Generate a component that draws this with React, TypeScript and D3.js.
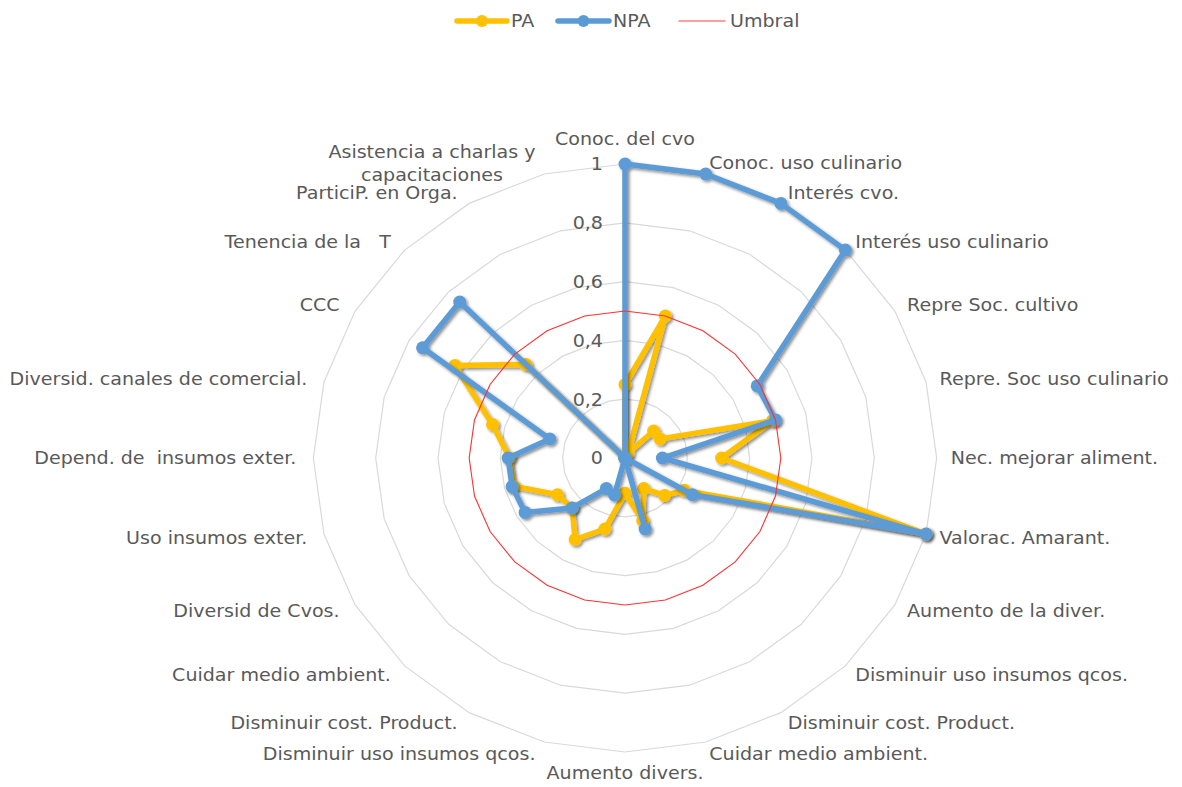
import React, { useEffect, useRef } from "react";
import * as d3 from "d3";

const categories: string[] = [
  "Conoc. del cvo",
  "Conoc. uso culinario",
  "Interés cvo.",
  "Interés uso culinario",
  "Repre Soc. cultivo",
  "Repre. Soc uso culinario",
  "Nec. mejorar aliment.",
  "Valorac. Amarant.",
  "Aumento de la diver.",
  "Disminuir uso insumos qcos.",
  "Disminuir cost. Product.",
  "Cuidar medio ambient.",
  "Aumento divers.",
  "Disminuir uso insumos qcos.",
  "Disminuir cost. Product.",
  "Cuidar medio ambient.",
  "Diversid de Cvos.",
  "Uso insumos exter.",
  "Depend. de  insumos exter.",
  "Diversid. canales de comercial.",
  "CCC",
  "Tenencia de la   T",
  "ParticiP. en Orga.",
  "Asistencia a charlas y\ncapacitaciones",
];

const paValues: number[] = [
  0.25, 0.5, 0.02, 0.13, 0.13, 0.49, 0.31, 1.0, 0.22, 0.18, 0.12, 0.22,
  0.12, 0.25, 0.32, 0.24, 0.25, 0.37, 0.37, 0.44, 0.63, 0.45, 0, 0,
];

const npaValues: number[] = [
  1.0, 1.0, 1.0, 1.0, 0.49, 0.5, 0.12, 1.0, 0.25, 0, 0, 0.25,
  0, 0.13, 0.12, 0.24, 0.37, 0.375, 0.375, 0.25, 0.75, 0.75, 0, 0,
];

const umbralValues: number[] = [
  0.5, 0.5, 0.5, 0.5, 0.5, 0.5, 0.5, 0.5, 0.5, 0.5, 0.5, 0.5,
  0.5, 0.5, 0.5, 0.5, 0.5, 0.5, 0.5, 0.5, 0.5, 0.5, 0.5, 0.5,
];

const tickValues: number[] = [0, 0.2, 0.4, 0.6, 0.8, 1];
const tickLabels: string[] = ["0", "0,2", "0,4", "0,6", "0,8", "1"];

const seriesNames: string[] = ["PA", "NPA", "Umbral"];

const W = 1182;
const H = 787;
const CX = 625;
const CY = 458;
const R = 294;
const SX = 1.06;
const FONT = "'DejaVu Sans', Verdana, sans-serif";
const TEXT_COLOR = "#595959";
const PA_COLOR = "#FFC000";
const NPA_COLOR = "#5B9BD5";
const UMBRAL_COLOR = "#FF3030";

export default function App() {
  const ref = useRef<SVGSVGElement | null>(null);

  useEffect(() => {
    const svg = d3.select(ref.current);
    svg.selectAll("*").remove();

    const n = categories.length;
    const r = d3.scaleLinear().domain([0, 1]).range([0, R]);
    const angle = d3
      .scaleLinear()
      .domain([0, n])
      .range([0, 2 * Math.PI]);

    const pt = (i: number, v: number): [number, number] => {
      const a = angle(i);
      return [CX + SX * r(v) * Math.sin(a), CY - r(v) * Math.cos(a)];
    };

    const defs = svg.append("defs");
    const f = defs
      .append("filter")
      .attr("id", "shadow")
      .attr("x", "-10%")
      .attr("y", "-10%")
      .attr("width", "130%")
      .attr("height", "130%");
    f.append("feDropShadow")
      .attr("dx", 1.8)
      .attr("dy", 1.8)
      .attr("stdDeviation", 1.4)
      .attr("flood-color", "#000")
      .attr("flood-opacity", 0.45);

    svg.append("rect").attr("width", W).attr("height", H).attr("fill", "#fff");

    const closed = d3
      .line<number>()
      .x((v, i) => pt(i, v)[0])
      .y((v, i) => pt(i, v)[1])
      .curve(d3.curveLinearClosed);

    // grid rings
    const gridG = svg.append("g");
    tickValues
      .filter((t) => t > 0)
      .forEach((t) => {
        gridG
          .append("path")
          .attr("d", closed(categories.map(() => t)))
          .attr("fill", "none")
          .attr("stroke", "#D9D9D9")
          .attr("stroke-width", 1.2);
      });

    // tick labels
    const tickG = svg.append("g");
    tickValues.forEach((t, k) => {
      tickG
        .append("text")
        .attr(
          "transform",
          `translate(${CX - 22},${CY - r(t)}) scale(${SX},1)`
        )
        .attr("text-anchor", "end")
        .attr("dominant-baseline", "central")
        .attr("font-family", FONT)
        .attr("font-size", 18)
        .attr("fill", TEXT_COLOR)
        .text(tickLabels[k]);
    });

    // category labels
    const labG = svg.append("g");
    categories.forEach((c, i) => {
      const a = angle(i);
      const s = Math.sin(a);
      const co = Math.cos(a);
      const [ex, ey] = pt(i, 1);
      let x = ex;
      let y = ey;
      let anchor = "middle";
      if (Math.abs(s) < 0.01) {
        y = co > 0 ? ey - 25 : ey + 21;
      } else if (s > 0) {
        anchor = "start";
        x = ex + 14 * s;
        y = ey - 12 * co;
      } else {
        anchor = "end";
        x = ex - (6 + 11 * Math.abs(s));
        y = ey - 12 * co;
      }
      const lines = c.split("\n");
      const lh = 23;
      const g = labG
        .append("g")
        .attr("transform", `translate(${x},${y}) scale(${SX},1)`);
      const t = g
        .append("text")
        .attr("font-family", FONT)
        .attr("font-size", 18)
        .attr("fill", TEXT_COLOR)
        .attr("text-anchor", anchor)
        .attr("dominant-baseline", "central")
        .attr("xml:space", "preserve")
        .style("white-space", "pre");
      if (lines.length === 1) {
        t.text(c);
      } else {
        const tmp = g
          .append("text")
          .attr("font-family", FONT)
          .attr("font-size", 18)
          .text(lines[0]);
        const w0 = (tmp.node() as SVGTextElement).getComputedTextLength();
        tmp.remove();
        const cxOff = anchor === "end" ? -w0 / 2 : anchor === "start" ? w0 / 2 : 0;
        t.attr("text-anchor", "middle");
        lines.forEach((ln, k) => {
          t.append("tspan")
            .attr("x", cxOff)
            .attr("y", (k - (lines.length - 1) / 2) * lh)
            .text(ln);
        });
      }
    });

    // series
    const drawSeries = (vals: number[], color: string) => {
      const g = svg.append("g").attr("filter", "url(#shadow)");
      g.append("path")
        .attr("d", closed(vals))
        .attr("fill", "none")
        .attr("stroke", color)
        .attr("stroke-width", 5.5)
        .attr("stroke-linejoin", "round");
      g.selectAll("circle")
        .data(vals)
        .enter()
        .append("circle")
        .attr("cx", (v, i) => pt(i, v)[0])
        .attr("cy", (v, i) => pt(i, v)[1])
        .attr("r", 6.5)
        .attr("fill", color);
    };
    drawSeries(paValues, PA_COLOR);
    drawSeries(npaValues, NPA_COLOR);

    svg
      .append("path")
      .attr("d", closed(umbralValues))
      .attr("fill", "none")
      .attr("stroke", UMBRAL_COLOR)
      .attr("stroke-width", 1.1);

    // legend
    const legend = svg.append("g");
    const legendItems = [
      { name: seriesNames[0], color: PA_COLOR, x0: 457, x1: 507, tx: 511, marker: true, w: 5.5 },
      { name: seriesNames[1], color: NPA_COLOR, x0: 558, x1: 609, tx: 613, marker: true, w: 5.5 },
      { name: seriesNames[2], color: "#FF8080", x0: 679, x1: 725, tx: 730, marker: false, w: 1.6 },
    ];
    const ly = 21;
    legendItems.forEach((it) => {
      legend
        .append("line")
        .attr("x1", it.x0)
        .attr("x2", it.x1)
        .attr("y1", ly)
        .attr("y2", ly)
        .attr("stroke", it.color)
        .attr("stroke-width", it.w)
        .attr("stroke-linecap", "round");
      if (it.marker) {
        legend
          .append("circle")
          .attr("cx", (it.x0 + it.x1) / 2)
          .attr("cy", ly)
          .attr("r", 6)
          .attr("fill", it.color);
      }
      legend
        .append("text")
        .attr("transform", `translate(${it.tx},${ly}) scale(${SX},1)`)
        .attr("dominant-baseline", "central")
        .attr("font-family", FONT)
        .attr("font-size", 18)
        .attr("fill", TEXT_COLOR)
        .text(it.name);
    });
  }, []);

  return (
    <svg
      ref={ref}
      width={W}
      height={H}
      style={{ position: "absolute", left: 0, top: 0, display: "block" }}
    />
  );
}
